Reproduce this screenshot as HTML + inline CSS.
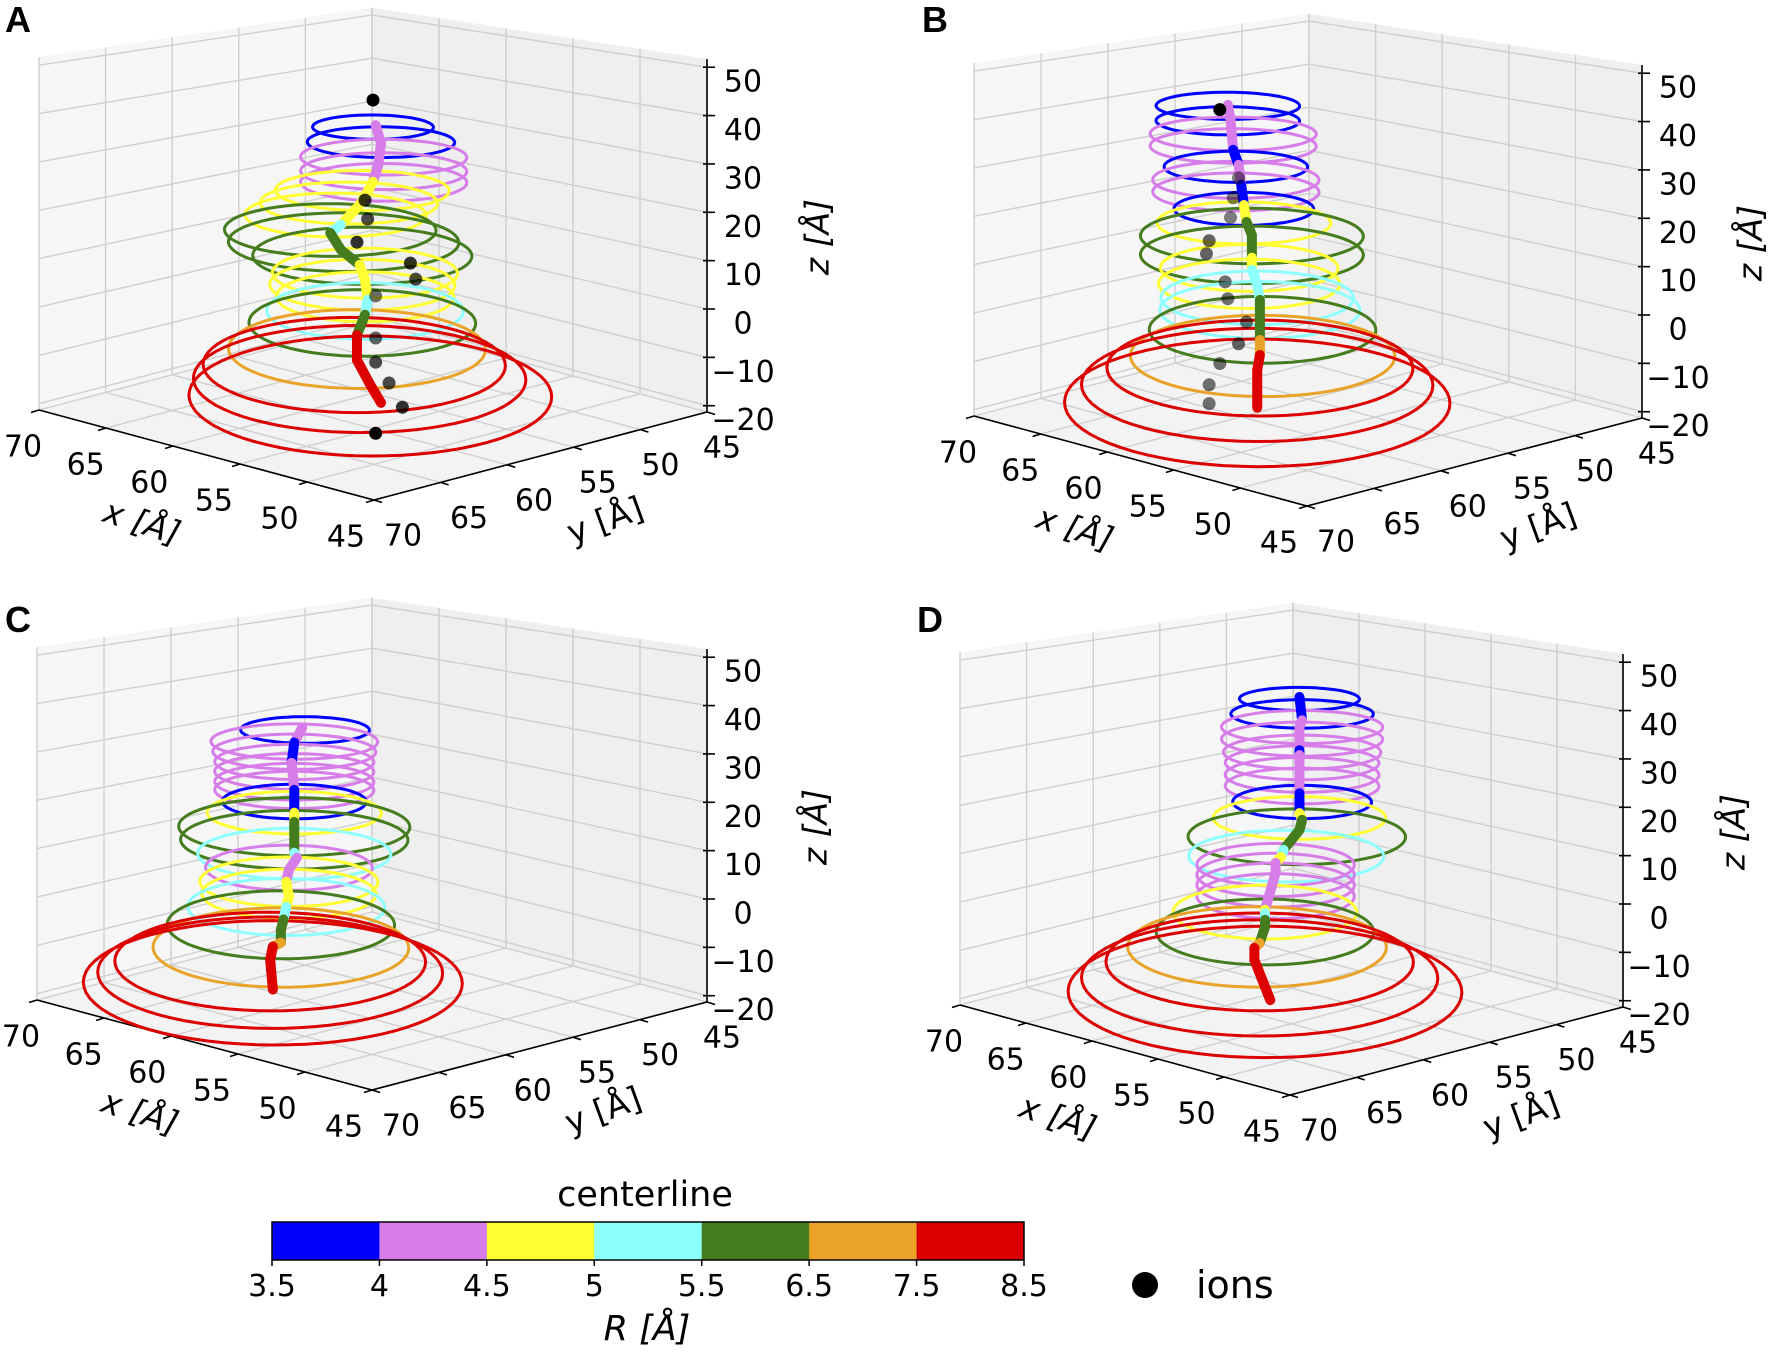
<!DOCTYPE html>
<html><head><meta charset="utf-8">
<style>
html,body{margin:0;padding:0;background:#fff;}
svg{display:block;font-family:"DejaVu Sans","Liberation Sans",sans-serif;}
</style></head>
<body>
<svg id="fig" width="1772" height="1352" viewBox="0 0 1772 1352" xmlns="http://www.w3.org/2000/svg"></svg>
<script>
// ---------- data ----------
const zTicks=[-20,-10,0,10,20,30,40,50];
const xTicks=[70,65,60,55,50,45];
const yTicks=[70,65,60,55,50,45];
const binEdges=[3.5,4,4.5,5,5.5,6.5,7.5,8.5];
const binLabels=["3.5","4","4.5","5","5.5","6.5","7.5","8.5"];
const binColors=["#0000ff","#d77de9","#ffff33","#8effff","#457c1e","#e8a328","#dc0000"];

// Panel A
const ringZ_A=[37.4,34.3,31.2,28.3,26,24.3,21.7,19.2,16.1,13.6,10.8,7.2,4.8,2.3,-0.6,-3.1,-8.5,-11.8,-14.7,-18.2];
const ringR_A=[3.2,3.9,4.4,4.4,4.4,4.6,4.7,4.8,5.6,6.1,5.8,4.9,4.9,4.7,5.2,6.0,6.8,8.0,8.8,9.6];
const ringU_A=[0,-0.3,-0.4,-0.4,-0.4,0.4,0.9,1.4,1.6,1.1,0.4,0.3,0.4,0.3,0.3,0.4,0.6,0.7,0.5,0.1];
const clZ_A=[37.8,34.1,29.6,26.1,21.3,17.2,15.5,12,8.9,5.8,1.7,-1.4,-5.6,-10.8,-15.9,-19.6];
const clU_A=[-0.1,-0.3,-0.2,0,0.5,1.2,1.6,1.2,0.5,0.3,0.2,0.3,0.6,0.6,0.1,-0.3];
const clR_A=[3.8,4.3,4.3,4.3,4.7,4.7,5.2,6,6,4.8,4.8,5.3,5.8,7.8,8,8];
const ionZ_A=[43,22.3,18.4,13.6,9.3,6,2.5,-6.2,-11.2,-15.5,-20.5,-25.9];
const ionU_A=[0,0.3,0.2,0.6,-1.4,-1.6,-0.1,-0.1,-0.1,-0.6,-1.1,-0.1];
const ionA_A=[1,0.8,0.7,0.8,0.8,0.7,0.55,0.6,0.7,0.7,0.8,1];

// Panel B
const ringZ_B=[43,39.9,37.2,34.7,30.4,27.7,25.2,21.7,18.8,16.1,12.2,9.5,6.2,3.3,0.8,-3.3,-8.7,-11.2,-14.7,-18.4];
const ringR_B=[3.8,3.8,4.4,4.4,3.8,4.4,4.4,3.7,4.6,5.9,5.9,4.7,4.8,5.1,5.3,6.0,7.0,8.1,9.3,10.2];
const ringU_B=[3.0,3.0,2.8,2.8,2.7,2.7,2.7,2.4,2.4,2.1,2.1,2.2,2.2,1.9,1.8,1.7,1.7,1.8,1.9,1.9];
const clZ_B=[43.2,40.1,33.9,30.8,26.7,22.5,19.0,16.3,11.6,9.1,6.0,2.9,-0.8,-5.4,-8.5,-11.6,-19.4];
const clU_B=[3.0,2.9,2.8,2.6,2.5,2.4,2.3,2.1,2.1,2.1,1.9,1.8,1.8,1.8,1.8,1.9,1.9];
const clR_B=[3.8,4.3,4.3,3.9,4.3,3.9,4.8,6,6,4.8,5.2,5.2,6,6,7,8,8];
const ionZ_B=[42.2,28.1,24.0,19.9,15.1,12.4,6.6,3.1,-1.7,-6.2,-10.3,-14.7,-18.6];
const ionU_B=[3.3,2.6,2.8,2.9,3.7,3.8,3.1,3.0,2.3,2.6,3.3,3.7,3.7];
const ionA_B=[1,0.5,0.5,0.5,0.6,0.6,0.55,0.55,0.55,0.6,0.55,0.55,0.55];

// Panel C
const ringZ_C=[34.7,32.3,30.2,28.1,26.1,24,22.3,19.9,17.6,14.7,12,9.1,6.2,3.3,0.8,-1.9,-5.6,-10.3,-13.2,-15.5,-17.6];
const ringR_C=[3.4,4.4,4.3,4.2,4.2,4.2,4.2,3.8,4.6,6.1,6.0,5.1,4.4,4.7,4.6,5.2,6.0,6.75,8.2,9.1,10];
const ringU_C=[2.5,2.9,2.9,2.9,2.9,2.9,2.9,2.9,2.9,2.9,2.9,2.9,3.1,3.1,3.1,3.2,3.4,3.4,3.8,3.8,3.7];
const clZ_C=[35.2,32.1,27.9,22.3,19.6,17.6,15.7,14.1,9.3,8.3,5.8,3.3,0.2,-1.9,-4.5,-6.6,-9.3,-10.1,-12.8,-19.0];
const clU_C=[2.6,2.9,3.0,2.9,2.9,2.9,2.9,2.9,2.9,2.8,3.1,3.2,3.1,3.2,3.3,3.4,3.4,3.7,3.8,3.7];
const clR_C=[3.8,4.3,3.8,4.3,3.8,3.8,4.8,6,6,5.2,4.3,4.3,4.8,4.8,5.2,6,6,7,8,8];
const ionZ_C=[];
const ionU_C=[];
const ionA_C=[];

// Panel D
const ringZ_D=[42.2,39.1,36.4,33.9,31.2,29,26.5,24.2,20.9,17.6,13.7,9.7,7.9,5.8,3.7,1.4,-1.9,-6,-9.1,-12.2,-15.5,-18.4];
const ringR_D=[3.2,3.8,4.3,4.3,4.2,4.1,4.1,4.1,3.7,4.6,5.8,5.2,4.2,4.2,4.2,4.2,4.9,5.8,6.9,8.2,9.5,10.5];
const ringU_D=[-0.3,-0.4,-0.4,-0.4,-0.4,-0.4,-0.4,-0.4,-0.4,-0.3,-0.2,0.2,0.6,0.6,0.6,0.6,1.0,1.0,1.3,1.2,1.2,1.0];
const clZ_D=[42.6,37.8,36.4,31.6,30.6,29.0,22.7,21.3,18.6,17.2,15.1,11.0,9.5,8.3,6.2,-1.4,-2.1,-3.5,-5.0,-8.3,-9.3,-11.8,-20.1];
const clU_D=[-0.3,-0.4,-0.3,-0.3,-0.3,-0.3,-0.3,-0.3,-0.3,-0.4,-0.3,0.3,0.4,0.6,0.6,1.0,1.0,1.0,1.0,1.2,1.4,1.4,0.8];
const clR_D=[3.8,3.8,4.3,4.3,3.8,4.3,4.3,3.8,3.8,4.8,6,6,5.2,4.8,4.3,4.3,4.8,5.2,6,6,7,8,8];
const ionZ_D=[];
const ionU_D=[];
const ionA_D=[];

// ---------- geometry ----------
const ZMIN=-21.3, ZMAX=51.7;
const NS="http://www.w3.org/2000/svg";
const svg=document.getElementById('fig');
function mk(tag,attrs,parent){const e=document.createElementNS(NS,tag);for(const k in attrs)e.setAttribute(k,attrs[k]);(parent||svg).appendChild(e);return e;}
function colorFor(R){for(let i=0;i<6;i++){if(R<binEdges[i+1])return binColors[i];}return binColors[6];}

function makeProj(P){
  return function(x,y,z){
    const a=(x-45)/25,b=(70-y)/25,c=(z-ZMIN)/(ZMAX-ZMIN);
    const s=1+0.11*(1-(a+b));
    return [P.F[0]+a*(P.L[0]-P.F[0])+b*(P.R[0]-P.F[0]),
            P.F[1]+a*(P.L[1]-P.F[1])+b*(P.R[1]-P.F[1])-c*P.H*s];
  };
}
function pts(arr){return arr.map(p=>p[0].toFixed(1)+','+p[1].toFixed(1)).join(' ');}

function drawPanel(P,letter,ringZ,ringR,ringU,clZ,clU,clR,ionZ,ionU,ionA){
  const pr=makeProj(P);
  const g=mk('g',{});
  
  
  const left=mk('polygon',{points:pts([pr(70,70,ZMIN),pr(70,45,ZMIN),pr(70,45,ZMAX),pr(70,70,ZMAX)]),fill:'#f6f6f6',stroke:'none'},g);
  
  
  const right=mk('polygon',{points:pts([pr(70,45,ZMIN),pr(45,45,ZMIN),pr(45,45,ZMAX),pr(70,45,ZMAX)]),fill:'#efefef',stroke:'none'},g);
  
  
  const floor=mk('polygon',{points:pts([pr(70,70,ZMIN),pr(70,45,ZMIN),pr(45,45,ZMIN),pr(45,70,ZMIN)]),fill:'#f3f3f3',stroke:'none'},g);
  
  
  const grid=mk('g',{stroke:'#cfcfcf','stroke-width':1.4,fill:'none'},g);
  
  
  yTicks.forEach(v=>{mk('polyline',{points:pts([pr(70,v,ZMIN),pr(70,v,ZMAX)])},grid);mk('polyline',{points:pts([pr(70,v,ZMIN),pr(45,v,ZMIN)])},grid);});
  xTicks.forEach(v=>{mk('polyline',{points:pts([pr(v,45,ZMIN),pr(v,45,ZMAX)])},grid);mk('polyline',{points:pts([pr(v,70,ZMIN),pr(v,45,ZMIN)])},grid);});
  zTicks.forEach(v=>{mk('polyline',{points:pts([pr(70,70,v),pr(70,45,v),pr(45,45,v)])},grid);});
  const ax=mk('g',{stroke:'#000','stroke-width':1.6,fill:'none'},g);
  
  
  mk('polyline',{points:pts([pr(70,70,ZMIN),pr(45,70,ZMIN),pr(45,45,ZMIN),pr(45,45,ZMAX)])},ax);
  const tl=mk('g',{'font-size':30,fill:'#000','text-anchor':'middle','dominant-baseline':'central'},g);
  
  
  xTicks.forEach(v=>{const p=pr(v,70,ZMIN);const a=(v-45)/25;
    mk('line',{x1:p[0],y1:p[1],x2:p[0]-8,y2:p[1]+2.5},ax);
    const t=mk('text',{x:p[0]-28+12*a*a,y:p[1]+37},tl);t.textContent=String(v);
    
    });
  yTicks.forEach(v=>{const p=pr(45,v,ZMIN);const b=(70-v)/25;
    mk('line',{x1:p[0],y1:p[1],x2:p[0]+8,y2:p[1]+2.5},ax);
    const t=mk('text',{x:p[0]+29-14*b*b,y:p[1]+36},tl);t.textContent=String(v);
    
    });
  zTicks.forEach(v=>{const p=pr(45,45,v);
    mk('line',{x1:p[0]-4,y1:p[1],x2:p[0]+8,y2:p[1]},ax);
    const t=mk('text',{x:p[0]+36,y:p[1]+15},tl);t.textContent=(v<0?'\u2212':'')+Math.abs(v);
    
    });
  const F=P.F;
  const xl=mk('text',{x:F[0]-232,y:F[1]+22,'font-size':33,'font-style':'italic','text-anchor':'middle','dominant-baseline':'central',transform:`rotate(18 ${F[0]-232} ${F[1]+22})`},g);
  xl.textContent='x [Å]';
  
  
  const yl=mk('text',{x:F[0]+231,y:F[1]+20,'font-size':33,'text-anchor':'middle','dominant-baseline':'central',transform:`rotate(-20 ${F[0]+231} ${F[1]+20})`},g);
  yl.textContent='y [Å]';
  
  
  const zl=mk('text',{x:F[0]+443,y:F[1]-263,'font-size':33,'font-style':'italic','text-anchor':'middle','dominant-baseline':'central',transform:`rotate(-90 ${F[0]+443} ${F[1]-263})`},g);
  zl.textContent='z [Å]';
  
  
  const rg=mk('g',{fill:'none','stroke-width':3},g);
  
  
  ringZ.forEach((z,i)=>{
    const cx=57.5+ringU[i],cy=57.5+ringU[i],R=ringR[i];
    const c0=pr(cx,cy,z);const c=(z-ZMIN)/(ZMAX-ZMIN);const k=1.27-0.13*c;
    const arr=[];
    for(let t=0;t<=72;t++){const th=t/72*2*Math.PI;const p=pr(cx+R*Math.cos(th),cy+R*Math.sin(th),z);arr.push([p[0],c0[1]+(p[1]-c0[1])*k]);}
    const e=mk('polyline',{points:pts(arr),stroke:colorFor(R)},rg);
    
    
  });
  const cg=mk('g',{fill:'none','stroke-width':10,'stroke-linecap':'round'},g);
  
  
  for(let i=0;i<clZ.length-1;i++){
    const p1=pr(57.5+clU[i],57.5+clU[i],clZ[i]),p2=pr(57.5+clU[i+1],57.5+clU[i+1],clZ[i+1]);
    const s=mk('line',{x1:p1[0],y1:p1[1],x2:p2[0],y2:p2[1],stroke:colorFor(clR[i+1])},cg);
    
    
  }
  const ig=mk('g',{},g);
  
  
  ionZ.forEach((z,i)=>{const p=pr(57.5+ionU[i],57.5+ionU[i],z);
    const c=mk('circle',{cx:p[0],cy:p[1],r:6.5,fill:'#000','fill-opacity':ionA[i]},ig);
    
    });
  const L=mk('text',{x:P.lx,y:P.ly,'font-size':36,'font-weight':'bold','font-family':'Liberation Sans, sans-serif'},g);
  L.textContent=letter;
  
  
}

drawPanel({F:[374,500],L:[39,410],R:[707,412],H:353,lx:5,ly:32},'A',ringZ_A,ringR_A,ringU_A,clZ_A,clU_A,clR_A,ionZ_A,ionU_A,ionA_A);
drawPanel({F:[1307,506],L:[974,416],R:[1642,418],H:353,lx:922,ly:32},'B',ringZ_B,ringR_B,ringU_B,clZ_B,clU_B,clR_B,ionZ_B,ionU_B,ionA_B);
drawPanel({F:[372,1090],L:[37,1000],R:[707,1002],H:353,lx:5,ly:632},'C',ringZ_C,ringR_C,ringU_C,clZ_C,clU_C,clR_C,ionZ_C,ionU_C,ionA_C);
drawPanel({F:[1290,1095],L:[960,1005],R:[1623,1007],H:353,lx:917,ly:632},'D',ringZ_D,ringR_D,ringU_D,clZ_D,clU_D,clR_D,ionZ_D,ionU_D,ionA_D);

// ---------- colorbar ----------
const cb=mk('g',{});


const CBX0=272,CBX1=1024,CBY=1222,CBH=38;
const segW=(CBX1-CBX0)/binColors.length;
binColors.forEach((c,i)=>{const r=mk('rect',{x:CBX0+i*segW,y:CBY,width:segW+0.5,height:CBH,fill:c},cb);
  
  });
mk('rect',{x:CBX0,y:CBY,width:CBX1-CBX0,height:CBH,fill:'none',stroke:'#000','stroke-width':1.5},cb);
binLabels.forEach((l,i)=>{const x=CBX0+i*segW;
  mk('line',{x1:x,y1:CBY+CBH,x2:x,y2:CBY+CBH+6,stroke:'#000','stroke-width':1.5},cb);
  const t=mk('text',{x:x,y:1296,'font-size':30,'text-anchor':'middle'},cb);t.textContent=l;
  
  });
const ct=mk('text',{x:645,y:1206,'font-size':35,'text-anchor':'middle'},cb);ct.textContent='centerline';


const rl=mk('text',{x:647,y:1340,'font-size':35,'font-style':'italic','text-anchor':'middle'},cb);rl.textContent='R [Å]';


const lg=mk('g',{});


const ld=mk('circle',{cx:1145,cy:1285,r:13,fill:'#000'},lg);


const lt=mk('text',{x:1196,y:1298,'font-size':38},lg);lt.textContent='ions';


</script>
</body></html>
